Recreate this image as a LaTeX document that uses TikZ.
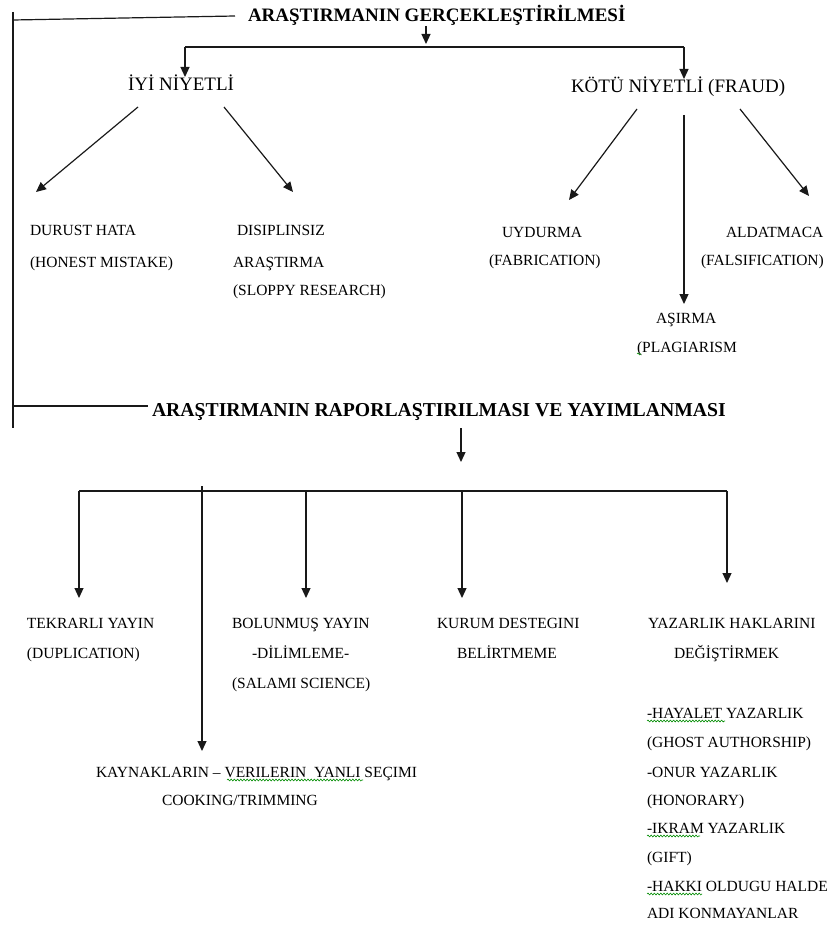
\documentclass[tikz,border=0pt]{standalone}
\usepackage{fontspec}
\setmainfont{Liberation Serif}
\usetikzlibrary{arrows.meta,decorations.pathmorphing}
\begin{document}
\begin{tikzpicture}[x=1pt,y=-1pt,
  every node/.style={inner sep=0pt, outer sep=0pt, anchor=base west},
  lbl/.style={font=\fontsize{15.5}{18}\selectfont},
  mid/.style={font=\fontsize{19}{22}\selectfont},
  ttl/.style={font=\fontsize{19}{22}\selectfont\bfseries},
  conn/.style={line width=1.2pt, draw=black!90},
  arr/.style={conn, -{Triangle[length=10pt,width=9pt]}},
  spell/.style={draw=green!55!black, line width=0.6pt, decorate,
    decoration={snake, amplitude=0.9pt, segment length=3.2pt}}
]
\fill[white] (0,0) rectangle (828,928);
\useasboundingbox (0,0) rectangle (828,928);

% ---- titles ----
\node[ttl] (t1) at (248,22) {ARAŞTIRMANIN GERÇEKLEŞTİRİLMESİ};
\node[ttl, font=\fontsize{19.7}{22}\selectfont\bfseries] (t2) at (152,416) {ARAŞTIRMANIN RAPORLAŞTIRILMASI VE YAYIMLANMASI};

% ---- first stage ----
\node[mid] (iyi) at (128,91) {İYİ NİYETLİ};
\node[mid] (kotu) at (571,93) {KÖTÜ NİYETLİ (FRAUD)};

\node[lbl] (dh1) at (30,235) {DURUST HATA};
\node[lbl] (dh2) at (30,267) {(HONEST MISTAKE)};
\node[lbl] (ds1) at (237,235) {DISIPLINSIZ};
\node[lbl] (ds2) at (233,267) {ARAŞTIRMA};
\node[lbl] (ds3) at (233,295) {(SLOPPY RESEARCH)};
\node[lbl] (uy1) at (502,237) {UYDURMA};
\node[lbl] (uy2) at (489,265) {(FABRICATION)};
\node[lbl] (al1) at (726,237) {ALDATMACA};
\node[lbl] (al2) at (701,265) {(FALSIFICATION)};
\node[lbl] (as1) at (656,323) {AŞIRMA};
\node[lbl] (as2) at (637,352) {(PLAGIARISM};

% ---- second stage ----
\node[lbl] (tk1) at (27,628) {TEKRARLI YAYIN};
\node[lbl] (tk2) at (27,658) {(DUPLICATION)};
\node[lbl] (bo1) at (232,628) {BOLUNMUŞ YAYIN};
\node[lbl] (bo2) at (252,658) {-DİLİMLEME-};
\node[lbl] (bo3) at (232,688) {(SALAMI SCIENCE)};
\node[lbl] (ku1) at (437,628) {KURUM DESTEGINI};
\node[lbl] (ku2) at (457,658) {BELİRTMEME};
\node[lbl] (ya1) at (648,628) {YAZARLIK HAKLARINI};
\node[lbl] (ya2) at (674,658) {DEĞİŞTİRMEK};
\node[lbl] (ka1) at (96,777) {KAYNAKLARIN – VERILERIN\ \ YANLI SEÇIMI};
\node[lbl] (ka2) at (162,805) {COOKING/TRIMMING};

\node[lbl] (r1) at (647,718) {-HAYALET YAZARLIK};
\node[lbl] (r2) at (647,747) {(GHOST AUTHORSHIP)};
\node[lbl] (r3) at (647,777) {-ONUR YAZARLIK};
\node[lbl] (r4) at (647,805) {(HONORARY)};
\node[lbl] (r5) at (647,833) {-IKRAM YAZARLIK};
\node[lbl] (r6) at (647,862) {(GIFT)};
\node[lbl] (r7) at (647,891) {-HAKKI OLDUGU HALDE};
\node[lbl] (r8) at (647,918) {ADI KONMAYANLAR};

% ---- bracket on the left joining both stages ----
\coordinate (brTop) at (13,12);
\coordinate (brBot) at (13,428);
\coordinate (brJ1) at (13,20);
\coordinate (brJ2) at (13,406);
\coordinate (t1L) at (235,16);
\coordinate (t2L) at (148,406);
\draw[conn] (brTop) -- (brBot);
\draw[conn] (brJ1) -- (t1L);
\draw[conn] (brJ2) -- (t2L);

% ---- first stage connectors ----
\coordinate (t1s) at (426,26);
\coordinate (t1e) at (426,44);
\draw[arr] (t1s) -- (t1e);
\coordinate (b1L) at (185,47);
\coordinate (b1R) at (684,47);
\coordinate (iyiN) at (185,77);
\coordinate (kotuN) at (684,79);
\draw[conn] (b1L) -- (b1R);
\draw[arr] (b1L) -- (iyiN);
\draw[arr] (b1R) -- (kotuN);

\coordinate (iyiA) at (138,107);
\coordinate (iyiB) at (224,107);
\coordinate (dhT) at (36,192);
\coordinate (dsT) at (293,192);
\draw[arr] (iyiA) -- (dhT);
\draw[arr] (iyiB) -- (dsT);

\coordinate (kotuA) at (637,109);
\coordinate (kotuB) at (684,115);
\coordinate (kotuC) at (740,109);
\coordinate (uyT) at (569,200);
\coordinate (asT) at (684,304);
\coordinate (alT) at (809,196);
\draw[arr] (kotuA) -- (uyT);
\draw[arr] (kotuB) -- (asT);
\draw[arr] (kotuC) -- (alT);

% ---- second stage connectors ----
\coordinate (t2s) at (461,428);
\coordinate (t2e) at (461,462);
\draw[arr] (t2s) -- (t2e);
\coordinate (b2L) at (79,491);
\coordinate (b2R) at (727,491);
\draw[conn] (b2L) -- (b2R);
\coordinate (b2a) at (306,491);
\coordinate (b2b) at (462,491);
\coordinate (b2k) at (202,486);
\coordinate (tkT) at (79,598);
\coordinate (boT) at (306,598);
\coordinate (kuT) at (462,598);
\coordinate (yaT) at (727,583);
\coordinate (kaT) at (202,751);
\draw[arr] (b2L) -- (tkT);
\draw[arr] (b2a) -- (boT);
\draw[arr] (b2b) -- (kuT);
\draw[arr] (b2R) -- (yaT);
\draw[arr] (b2k) -- (kaT);

% ---- proofing marks under some words ----
\draw[spell] (227,780) -- (363,780);
\draw[spell] (647,721) -- (725,721);
\draw[spell] (647,836) -- (700,836);
\draw[spell] (647,894) -- (702,894);
\draw[spell] (637,354) -- (641,354);
\end{tikzpicture}
\end{document}
